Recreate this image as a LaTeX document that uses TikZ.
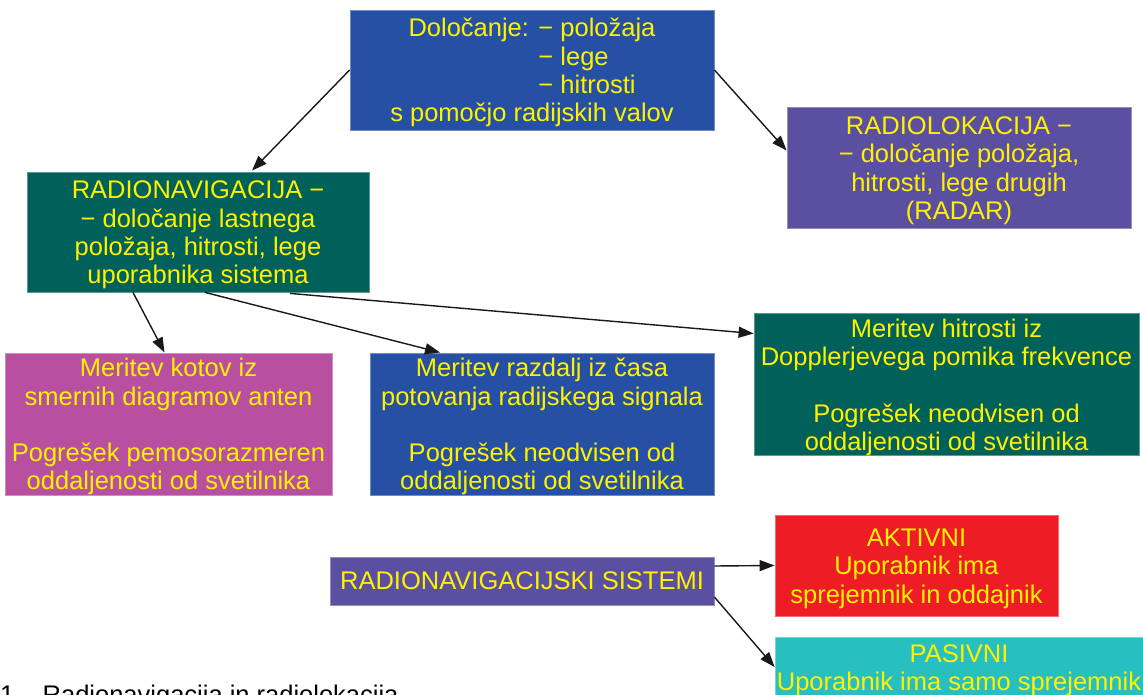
\documentclass[tikz,border=0pt]{standalone}
\usepackage{fontspec}
\setmainfont{Liberation Sans}
\usetikzlibrary{arrows.meta,calc}
\definecolor{cblue}{HTML}{2550A4}
\definecolor{cteal}{HTML}{00605A}
\definecolor{cpurple}{HTML}{5A4FA0}
\definecolor{cmag}{HTML}{B8509F}
\definecolor{cred}{HTML}{EE1C25}
\definecolor{ccyan}{HTML}{27BFC0}
\definecolor{ylw}{HTML}{FFF200}
\newcommand\tpstrut{\rule{0pt}{24pt}}
\begin{document}
\begin{tikzpicture}[x=1pt,y=-1pt,
  box/.style={fill=#1, draw=#1!65!white, line width=0.8pt, text=ylw, align=center,
    inner sep=0pt, font=\fontsize{25.5}{28.3}\selectfont},
  arr/.style={-{Triangle[length=15pt,width=11pt]}, line width=1.4pt, draw=black!90}]
\useasboundingbox (0,0) rectangle (1143,695);

\node[box=cblue, minimum width=364, minimum height=120] (top) at (532,70)
  {\tpstrut Določanje: − položaja\\
   \phantom{Določanje: }\rlap{− lege}\phantom{− položaja}\\
   \phantom{Določanje: }\rlap{− hitrosti}\phantom{− položaja}\\
   s pomočjo radijskih valov};

\node[box=cteal, minimum width=342, minimum height=120] (rn) at (198,232)
  {\tpstrut RADIONAVIGACIJA −\\− določanje lastnega\\položaja, hitrosti, lege\\uporabnika sistema};

\node[box=cpurple, minimum width=344, minimum height=121] (rl) at (959,167.5)
  {\tpstrut RADIOLOKACIJA −\\− določanje položaja,\\hitrosti, lege drugih\\(RADAR)};

\node[box=cmag, minimum width=327, minimum height=142] (mag) at (168.5,424)
  {\tpstrut Meritev kotov iz\\smernih diagramov anten\\[28pt]Pogrešek pemosorazmeren\\oddaljenosti od svetilnika};

\node[box=cblue, minimum width=344, minimum height=142] (blu) at (542,424)
  {\tpstrut Meritev razdalj iz časa\\potovanja radijskega signala\\[28pt]Pogrešek neodvisen od\\oddaljenosti od svetilnika};

\node[box=cteal, minimum width=385, minimum height=141] (grn) at (946.5,384.5)
  {\tpstrut Meritev hitrosti iz\\Dopplerjevega pomika frekvence\\[28pt]Pogrešek neodvisen od\\oddaljenosti od svetilnika};

\node[box=cpurple, minimum width=384, minimum height=48] (sis) at (522,581)
  {RADIONAVIGACIJSKI SISTEMI};

\node[box=cred, minimum width=283, minimum height=101] (akt) at (916.5,565.5)
  {\tpstrut AKTIVNI\\Uporabnik ima\\sprejemnik in oddajnik};

\node[box=ccyan, minimum width=368, minimum height=60] (pas) at (959,667)
  {\tpstrut PASIVNI\\Uporabnik ima samo sprejemnik};

\node[anchor=base west, inner sep=0pt, font=\fontsize{25.5}{28}\selectfont, text=black] (cap) at (0,703)
  {1 – Radionavigacija in radiolokacija};

\draw[arr] (top.west) -- ($(rn.north)+(54,-1)$);
\draw[arr] (top.east) -- ($(rl.west)+(0,-17)$);
\draw[arr] ($(rn.south)+(-65,0)$) -- ($(mag.north)+(-4,0)$);
\draw[arr] ($(rn.south)+(7,0)$) -- ($(blu.north)+(-102,0)$);
\draw[arr] ($(rn.south)+(92,1)$) -- ($(grn.west)+(0,-51)$);
\draw[arr] ($(sis.east)+(0,-15)$) -- (akt.west);
\draw[arr] ($(sis.east)+(0,16)$) -- (pas.west);
\end{tikzpicture}
\end{document}
